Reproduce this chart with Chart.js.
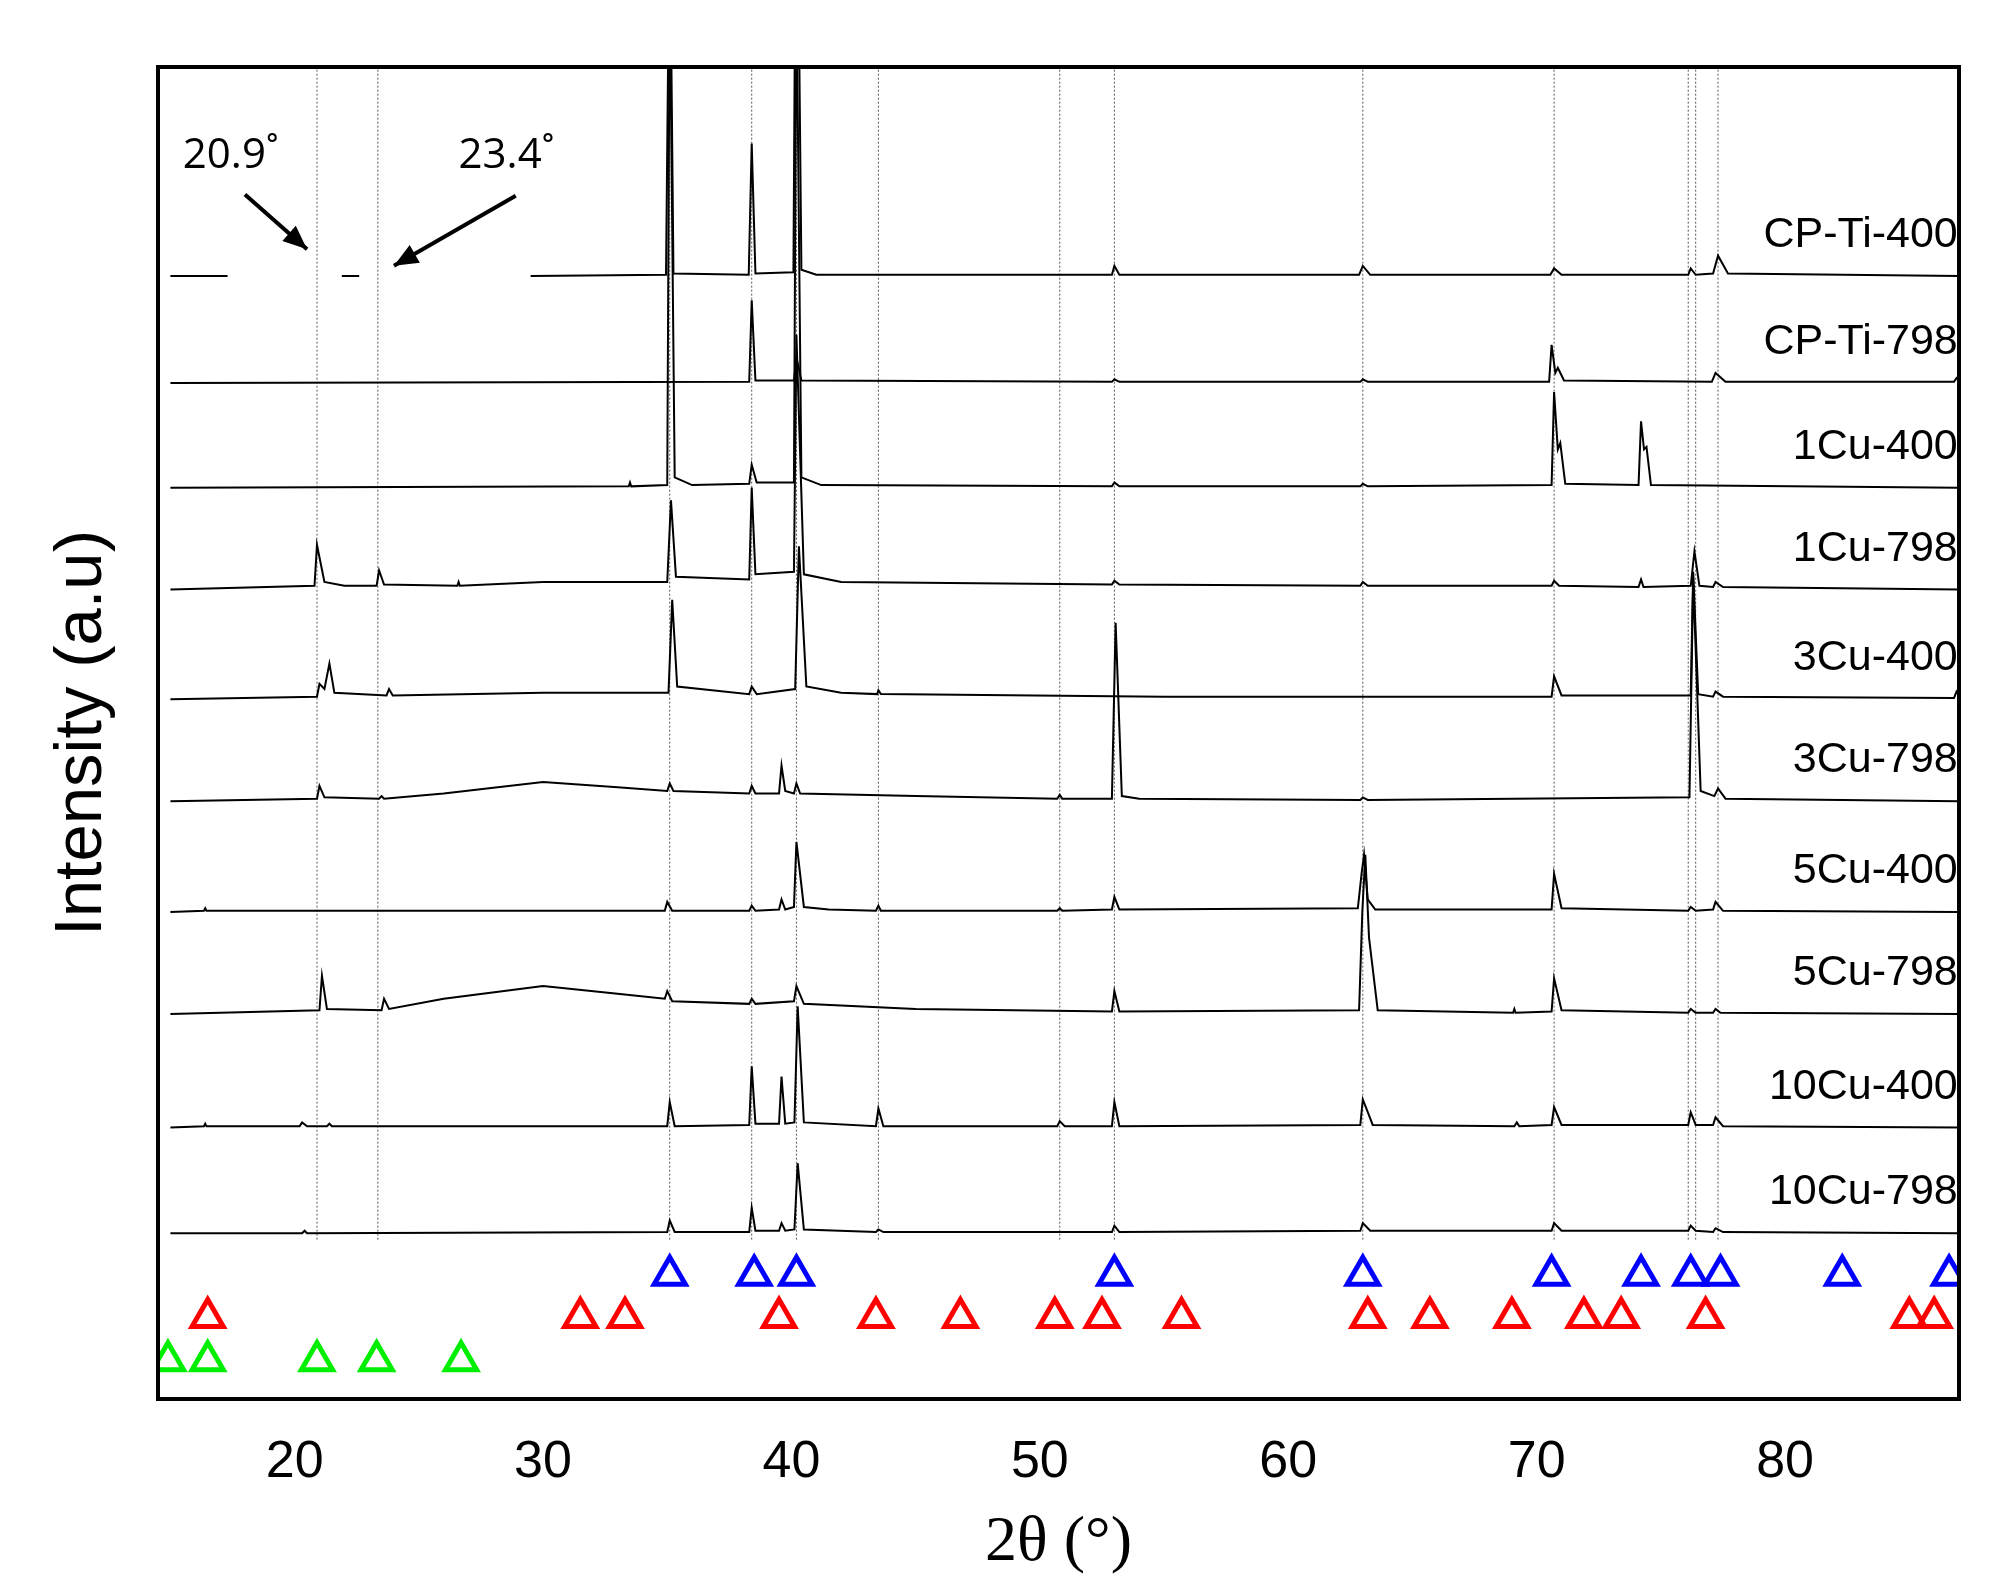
<!DOCTYPE html>
<html>
<head>
<meta charset="utf-8">
<script src="https://cdn.jsdelivr.net/npm/chart.js@4"></script>
<style>
  body { margin: 0; background: #fff; }
  #wrap { width: 1998px; height: 1586px; }
</style>
</head>
<body>
<div id="wrap"><canvas id="xrd"></canvas></div>
<script>
// sample names and their baseline offsets (intensity units, bottom of plot = 0)
const sampleNames = ['CP-Ti-400', 'CP-Ti-798', '1Cu-400', '1Cu-798', '3Cu-400', '3Cu-798', '5Cu-400', '5Cu-798', '10Cu-400', '10Cu-798'];
const baselines = [881, 797, 715, 635, 549, 469, 382, 302, 213, 130];

// profiles: [2theta, intensity above baseline], null = gap
const cpTi400 = [[15,0],[17.3,0],[17.31,null],[21.9,0],[22.6,0],[22.61,null],[29.5,0],[34.95,1],[35.1,300],[35.25,2],[38.28,1],[38.4,104],[38.55,2],[40.08,3],[40.2,400],[40.4,5],[41,1],[52.9,1],[53.0,8],[53.2,1],[62.85,1],[63.0,8],[63.3,1],[70.55,1],[70.7,6],[71.0,1],[76.1,1],[76.2,6],[76.4,1],[77.1,2],[77.3,16],[77.7,2],[87,0]];
const cpTi798 = [[15,0],[38.3,1],[38.4,65],[38.55,2],[40.1,2],[40.2,20],[40.4,2],[52.9,1],[53.0,3],[53.2,1],[62.9,1],[63.0,3],[63.2,1],[70.5,1],[70.6,30],[70.75,8],[70.85,12],[71.1,2],[77.05,1],[77.2,8],[77.6,1],[86.8,1],[86.9,4],[87,2]];
const cu1_400 = [[15,0],[33.45,1],[33.5,4],[33.55,1],[35.0,2],[35.1,400],[35.3,8],[36,2],[38.3,3],[38.4,18],[38.6,4],[40.1,4],[40.2,400],[40.4,8],[41.2,2],[52.9,1],[53.0,4],[53.2,1],[62.9,1],[63.0,3],[63.2,1],[70.6,2],[70.7,75],[70.85,30],[70.95,35],[71.15,3],[74.1,2],[74.2,52],[74.32,30],[74.42,32],[74.6,2],[87,0]];
const cu1_798 = [[15,0],[20.8,3],[20.9,35],[21.2,6],[22,3],[23.3,3],[23.4,15],[23.6,4],[26.55,3],[26.6,6],[26.65,3],[30,6],[35.0,6],[35.15,70],[35.35,10],[38.3,8],[38.4,80],[38.55,12],[40.1,14],[40.2,200],[40.5,12],[42,6],[52.9,4],[53.0,7],[53.2,4],[62.9,3],[63.0,6],[63.2,3],[70.6,3],[70.7,7],[70.9,3],[74.1,2],[74.2,8],[74.3,2],[76.2,3],[76.35,30],[76.55,3],[77.1,2],[77.2,6],[77.5,2],[87,0]];
const cu3_400 = [[15,0],[20.9,2],[21.0,12],[21.2,8],[21.4,28],[21.6,5],[23.7,3],[23.8,8],[23.95,3],[30,5],[35.05,5],[35.2,78],[35.4,10],[38.3,4],[38.4,10],[38.6,4],[40.15,8],[40.3,120],[40.6,10],[42,5],[43.45,4],[43.5,7],[43.6,4],[55,2],[70.6,2],[70.7,18],[71.0,3],[76.2,3],[76.3,100],[76.5,4],[77.1,2],[77.2,6],[77.5,2],[86.8,1],[86.9,6],[87,3]];
const cu3_798 = [[15,0],[20.9,2],[21.0,12],[21.2,3],[23.4,2],[23.5,4],[23.6,2],[26,6],[30,15],[33,11],[35.0,8],[35.1,14],[35.25,8],[38.3,6],[38.4,12],[38.55,6],[39.5,6],[39.6,28],[39.75,8],[40.1,6],[40.2,14],[40.35,6],[45,4],[50.7,2],[50.8,5],[50.9,2],[52.9,2],[53.05,140],[53.3,4],[54,2],[62.9,1],[63.0,3],[63.2,1],[76.15,3],[76.3,175],[76.6,8],[77.15,4],[77.3,10],[77.6,2],[87,0]];
const cu5_400 = [[15,0],[16.35,1],[16.4,3],[16.45,1],[34.9,1],[35.0,8],[35.2,1],[38.3,1],[38.4,5],[38.55,1],[39.5,2],[39.6,10],[39.75,2],[40.1,4],[40.2,55],[40.5,4],[41.5,2],[43.4,1],[43.5,5],[43.6,1],[50.7,1],[50.8,3],[50.9,1],[52.9,2],[53.0,12],[53.2,2],[62.8,3],[62.95,30],[63.05,45],[63.2,10],[63.5,2],[70.6,2],[70.7,30],[71.0,3],[76.1,1],[76.2,4],[76.4,1],[77.1,2],[77.2,8],[77.5,1],[87,0]];
const cu5_798 = [[15,0],[21.0,3],[21.1,30],[21.3,4],[23.5,3],[23.6,12],[23.8,4],[26,12],[30,22],[33,16],[34.9,12],[35.0,18],[35.2,10],[38.3,8],[38.4,12],[38.55,8],[40.1,10],[40.2,22],[40.5,8],[45,4],[52.9,2],[53.0,18],[53.2,2],[62.85,3],[62.98,80],[63.1,125],[63.25,60],[63.6,3],[69.05,1],[69.1,4],[69.15,1],[70.6,2],[70.7,28],[71.0,3],[76.1,1],[76.2,4],[76.4,1],[77.1,1],[77.2,4],[77.4,1],[87,0]];
const cu10_400 = [[15,0],[16.35,1],[16.4,3],[16.45,1],[20.2,1],[20.3,4],[20.5,1],[21.3,1],[21.4,3],[21.5,1],[35.0,1],[35.1,20],[35.3,1],[38.3,2],[38.4,48],[38.55,3],[39.5,3],[39.6,40],[39.75,3],[40.12,4],[40.25,95],[40.5,4],[43.4,1],[43.5,15],[43.7,1],[50.7,1],[50.8,5],[51.0,1],[52.9,1],[53.0,20],[53.2,1],[62.9,2],[63.0,22],[63.2,12],[63.4,2],[69.1,1],[69.2,4],[69.3,1],[70.6,2],[70.7,16],[71.0,2],[76.1,2],[76.2,12],[76.4,2],[77.1,2],[77.2,8],[77.5,1],[87,0]];
const cu10_798 = [[15,0],[20.3,0],[20.4,2],[20.5,0],[35.0,1],[35.1,10],[35.3,1],[38.3,1],[38.4,20],[38.55,2],[39.5,2],[39.6,8],[39.75,2],[40.12,3],[40.25,55],[40.5,3],[43.4,1],[43.5,3],[43.7,1],[52.9,1],[53.0,6],[53.2,1],[62.9,2],[63.0,8],[63.3,2],[70.6,2],[70.7,8],[71.0,2],[76.1,2],[76.2,6],[76.4,2],[77.1,1],[77.2,4],[77.5,1],[87,0]];
const profiles = [cpTi400, cpTi798, cu1_400, cu1_798, cu3_400, cu3_798, cu5_400, cu5_798, cu10_400, cu10_798];

// reference lines (dotted) and phase markers
const refLines = [20.9, 23.35, 35.1, 38.4, 40.2, 43.5, 50.8, 53.0, 63.0, 70.7, 76.1, 76.4, 77.3];
const bluePeaks = [35.1, 38.5, 40.2, 53.0, 63.0, 70.6, 74.2, 76.2, 77.4, 82.3, 86.6];
const redPeaks = [16.5, 31.5, 33.3, 39.5, 43.4, 46.8, 50.6, 52.5, 55.7, 63.2, 65.7, 69.0, 71.9, 73.4, 76.8, 85.0, 86.0];
const greenPeaks = [14.9, 16.5, 20.9, 23.3, 26.7];
const markerRows = [97, 64, 30];

const datasets = [];
profiles.forEach((p, i) => {
  datasets.push({
    data: p.map(pt => ({ x: pt[0], y: pt[1] === null ? null : baselines[i] + pt[1] })),
    borderColor: '#000', borderWidth: 2, pointRadius: 0, spanGaps: false, tension: 0
  });
});
refLines.forEach(x => {
  datasets.push({
    data: [{ x: x, y: 125 }, { x: x, y: 1045 }],
    borderColor: '#555', borderWidth: 1, borderDash: [2, 2], pointRadius: 0
  });
});
[[bluePeaks, '#0000ff'], [redPeaks, '#ff0000'], [greenPeaks, '#00ee00']].forEach((m, i) => {
  datasets.push({
    data: m[0].map(x => ({ x: x, y: markerRows[i] })),
    showLine: false, pointStyle: 'triangle', pointRadius: 18,
    pointBorderWidth: 5, pointBorderColor: m[1], pointBackgroundColor: 'rgba(0,0,0,0)'
  });
});

const extras = {
  id: 'extras',
  afterDatasetsDraw(chart) {
    const ctx = chart.ctx, xs = chart.scales.x, ys = chart.scales.y;
    ctx.save();
    ctx.fillStyle = '#000';
    ctx.font = '43px "Liberation Sans", Arial, sans-serif';
    ctx.textAlign = 'right';
    ctx.textBaseline = 'middle';
    sampleNames.forEach((n, i) => ctx.fillText(n, xs.getPixelForValue(86.95), ys.getPixelForValue(baselines[i] + 32)));
    // annotations
    ctx.font = '42px "Open Sans", sans-serif';
    ctx.textAlign = 'left';
    ctx.fillText('20.9˚', xs.getPixelForValue(15.5), ys.getPixelForValue(975));
    ctx.fillText('23.4˚', xs.getPixelForValue(26.6), ys.getPixelForValue(975));
    const arrow = (x1, y1, x2, y2) => {
      const px1 = xs.getPixelForValue(x1), py1 = ys.getPixelForValue(y1);
      const px2 = xs.getPixelForValue(x2), py2 = ys.getPixelForValue(y2);
      ctx.strokeStyle = '#000'; ctx.lineWidth = 4;
      ctx.beginPath(); ctx.moveTo(px1, py1); ctx.lineTo(px2, py2); ctx.stroke();
      const a = Math.atan2(py2 - py1, px2 - px1);
      ctx.beginPath();
      ctx.moveTo(px2, py2);
      ctx.lineTo(px2 - 26 * Math.cos(a - 0.4), py2 - 26 * Math.sin(a - 0.4));
      ctx.lineTo(px2 - 26 * Math.cos(a + 0.4), py2 - 26 * Math.sin(a + 0.4));
      ctx.closePath(); ctx.fill();
    };
    arrow(18.0, 945, 20.5, 902);
    arrow(28.9, 944, 24.0, 889);
    // frame
    const a = chart.chartArea;
    ctx.strokeStyle = '#000'; ctx.lineWidth = 4;
    ctx.strokeRect(a.left, a.top, a.right - a.left, a.bottom - a.top);
    ctx.restore();
  }
};

new Chart(document.getElementById('xrd'), {
  type: 'line',
  data: { datasets },
  options: {
    responsive: true, maintainAspectRatio: false, animation: false,
    layout: { padding: { top: 67, right: 39, left: 38, bottom: 0 } },
    plugins: { legend: { display: false }, tooltip: { enabled: false } },
    scales: {
      x: {
        type: 'linear', min: 14.5, max: 87,
        afterBuildTicks: s => { s.ticks = [15, 20, 25, 30, 35, 40, 45, 50, 55, 60, 65, 70, 75, 80, 85].map(v => ({ value: v })); },
        afterFit: s => { s.height = 187; },
        grid: { display: false, drawTicks: true, tickLength: 10, tickColor: '#000', tickWidth: 3 },
        border: { display: false },
        ticks: {
          color: '#000', font: { size: 52, family: '"Liberation Sans", Arial' }, padding: 22,
          callback: v => (v % 10 === 0 ? v : ''), maxRotation: 0, autoSkip: false
        },
        title: { display: true, text: '2θ (°)', color: '#000', padding: { top: -40 },
          font: { size: 64, family: '"Liberation Serif", "Times New Roman", serif' } }
      },
      y: {
        min: 0, max: 1045,
        afterFit: s => { s.width = 120; },
        grid: { display: false }, border: { display: false },
        ticks: { display: false },
        title: { display: true, text: 'Intensity (a.u)', color: '#000',
          font: { size: 67, family: '"Liberation Sans", Arial' } }
      }
    }
  },
  plugins: [extras]
});
</script>
</body>
</html>
